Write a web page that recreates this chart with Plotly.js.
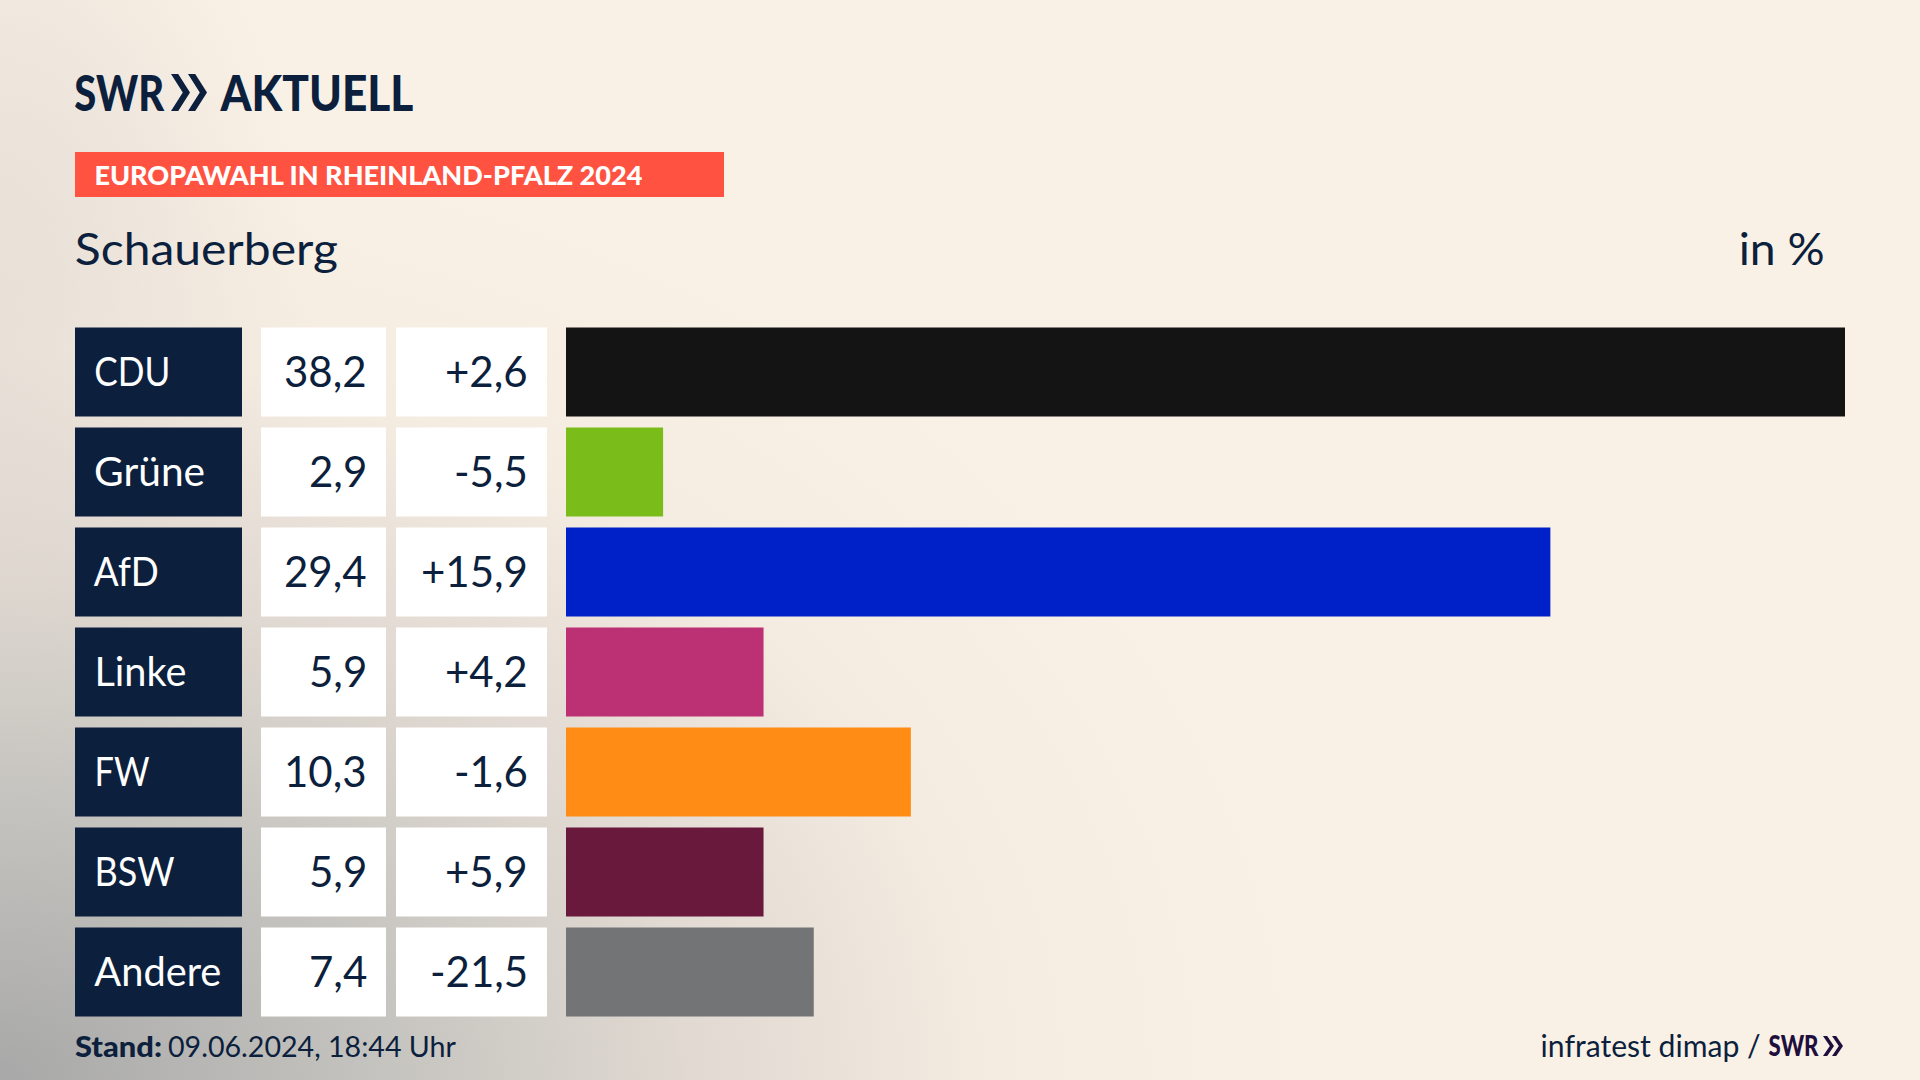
<!DOCTYPE html>
<html><head><meta charset="utf-8">
<script src="https://cdn.plot.ly/plotly-3.0.1.min.js"></script>
<style>
html,body{margin:0;padding:0;width:1920px;height:1080px;overflow:hidden;background-color:#faf1e6;}
body{background-image:
 radial-gradient(ellipse 1320px 960px at 0% 100%, rgba(168,168,168,1) 0%, rgba(194,193,189,.97) 28%, rgba(220,213,206,.85) 52%, rgba(240,231,221,.5) 76%, rgba(250,241,230,0) 100%),
 radial-gradient(ellipse 320px 600px at 0% 35%, rgba(205,200,195,.55) 0%, rgba(250,241,230,0) 100%);}
#chart{width:1920px;height:1080px;}
</style></head>
<body><div id="chart"></div>
<script>
const parties = ['CDU','Grüne','AfD','Linke','FW','BSW','Andere'];
const shares = [38.2,2.9,29.4,5.9,10.3,5.9,7.4];
const changes = [2.6,-5.5,15.9,4.2,-1.6,5.9,-21.5];
const barColors = ['#141414','#7abd1a','#0021c8','#bc3074','#ff8c14','#68193c','#737476'];
const brand = 'AKTUELL', station = 'SWR';
const banner = 'EUROPAWAHL IN RHEINLAND-PFALZ 2024';
const place = 'Schauerberg', unit = 'in %';
const standLabel = 'Stand:', standText = '09.06.2024, 18:44 Uhr', source = 'infratest dimap /';
const labelRightEdges = [170,205,159,186,149,174,221];

const W=1920,H=1080, navy='#0c1f3d', plum='#1e0f3c', FONT='Lato, sans-serif';
const px=x=>x/W, py=y=>1-y/H;
const de=v=>v.toFixed(1).replace('.',',');
const signed=v=>(v>0?'+':'')+de(v);
const annotations=[], fits={};

function span(text,x0,x1,yc,size,color,weight){
  fits[annotations.length]=x1-x0;
  annotations.push({text,x:px((x0+x1)/2),y:py(yc),xref:'paper',yref:'paper',showarrow:false,xanchor:'center',yanchor:'middle',
    font:{family:FONT,size,color,weight:weight||400}});
}
function rowSpan(text,x0,x1,i){
  fits[annotations.length]=x1-x0;
  annotations.push({text,x:px((x0+x1)/2),y:i,xref:'paper',yref:'y',yshift:1,showarrow:false,xanchor:'center',yanchor:'middle',
    font:{family:FONT,size:40,color:'#ffffff'}});
}
function rowRight(text,x,i){
  annotations.push({text,x:px(x),y:i,xref:'paper',yref:'y',yshift:1,showarrow:false,xanchor:'right',yanchor:'middle',
    font:{family:FONT,size:42,color:navy}});
}
function cell(x0,x1,i,color){
  return {type:'rect',layer:'below',xref:'paper',yref:'y',x0:px(x0),x1:px(x1),y0:i-0.444,y1:i+0.444,fillcolor:color,line:{width:0}};
}
function chevron(x,y,w,h,color){
  const t=w*0.38;
  const p=[[x,y],[x+t,y],[x+w,y+h/2],[x+t,y+h],[x,y+h],[x+w-t,y+h/2]];
  return {type:'path',xref:'paper',yref:'paper',line:{width:0},fillcolor:color,
    path:'M'+p.map(q=>px(q[0])+','+py(q[1])).join('L')+'Z'};
}

const shapes=[{type:'rect',layer:'below',xref:'paper',yref:'paper',x0:px(75),x1:px(724),y0:py(197),y1:py(152),fillcolor:'#ff5240',line:{width:0}},
  chevron(171,74,19,37,navy),chevron(188,74,19,37,navy),
  chevron(1823,1036,11,20,plum),chevron(1832,1036,11,20,plum)];

span(station,75,165,92.5,49,navy,900);
span(brand,220,413,92.5,49,navy,900);
span(banner,94,642,175,27,'#ffffff',900);
span(place,75,338,248,45,navy);
span(unit,1739,1825,248,45,navy);
span(standLabel,75,162,1046,28,navy,900);
span(standText,168,456,1046,28,navy);
span(source,1540,1760,1045,30,navy);
span(station,1769,1819,1045,28,plum,900);

parties.forEach((p,i)=>{
  shapes.push(cell(75,242,i,navy),cell(261,386,i,'#ffffff'),cell(396,547,i,'#ffffff'));
  rowSpan(p,94,labelRightEdges[i],i);
  rowRight(de(shares[i]),368.5,i);
  rowRight(signed(changes[i]),529.5,i);
});

const trace={type:'bar',orientation:'h',x:shares,y:parties.map((_,i)=>i),width:0.888,
  marker:{color:barColors,line:{width:0}},hoverinfo:'skip',cliponaxis:false};
const layout={width:W,height:H,margin:{l:0,r:0,t:0,b:0},paper_bgcolor:'rgba(0,0,0,0)',plot_bgcolor:'rgba(0,0,0,0)',showlegend:false,
  xaxis:{domain:[px(566),px(1845)],range:[0,38.2],visible:false,fixedrange:true},
  yaxis:{domain:[py(1022),py(322)],range:[6.5,-0.5],visible:false,fixedrange:true},
  shapes,annotations};
Plotly.newPlot('chart',[trace],layout,{displayModeBar:false,staticPlot:true}).then(()=>{
  document.querySelectorAll('.annotation').forEach((g,n)=>{
    const i=g.dataset.index!==undefined?+g.dataset.index:n;
    const t=g.querySelector('text.annotation-text');
    if(t&&fits[i]){t.setAttribute('textLength',fits[i]);t.setAttribute('lengthAdjust','spacingAndGlyphs');}
  });
});
</script></body></html>
